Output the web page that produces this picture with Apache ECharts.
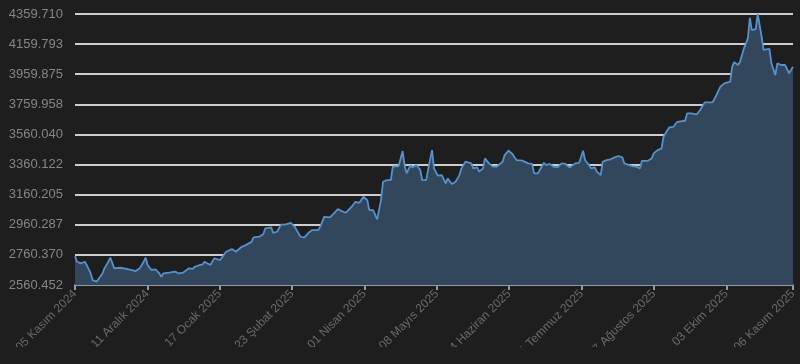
<!DOCTYPE html>
<html>
<head>
<meta charset="utf-8">
<script src="https://cdn.jsdelivr.net/npm/echarts@6/dist/echarts.min.js"></script>
<style>
html,body{margin:0;padding:0;background:#1e1e1e;}
#chart{width:800px;height:364px;}
</style>
</head>
<body>
<div id="chart"></div>
<script>
// ---- data ----
const dates = [
'2024-11-05','2024-11-06','2024-11-07','2024-11-08','2024-11-10','2024-11-11','2024-11-13','2024-11-14','2024-11-16','2024-11-17',
'2024-11-19','2024-11-20','2024-11-22','2024-11-23','2024-11-25','2024-11-26','2024-11-28','2024-11-30','2024-12-01','2024-12-04',
'2024-12-06','2024-12-08','2024-12-10','2024-12-11','2024-12-12','2024-12-14','2024-12-16','2024-12-18','2024-12-19','2024-12-20',
'2024-12-23','2024-12-24','2024-12-26','2024-12-28','2024-12-30','2024-12-31','2025-01-02','2025-01-04','2025-01-05','2025-01-07',
'2025-01-09','2025-01-10','2025-01-13','2025-01-15','2025-01-18','2025-01-21','2025-01-24','2025-01-26','2025-01-29','2025-01-31',
'2025-02-03','2025-02-04','2025-02-07','2025-02-09','2025-02-10','2025-02-13','2025-02-14','2025-02-16','2025-02-18','2025-02-20',
'2025-02-23','2025-02-25','2025-02-26','2025-02-28','2025-03-02','2025-03-04','2025-03-06','2025-03-09','2025-03-10','2025-03-12',
'2025-03-15','2025-03-17','2025-03-19','2025-03-21','2025-03-23','2025-03-26','2025-03-28','2025-03-30','2025-04-01','2025-04-03',
'2025-04-04','2025-04-06','2025-04-08','2025-04-10','2025-04-11','2025-04-13','2025-04-15','2025-04-16','2025-04-19','2025-04-21',
'2025-04-22','2025-04-23','2025-04-25','2025-04-26','2025-04-28','2025-04-30','2025-05-01','2025-05-03','2025-05-04','2025-05-06',
'2025-05-07','2025-05-09','2025-05-11','2025-05-12','2025-05-13','2025-05-14','2025-05-16','2025-05-18','2025-05-20','2025-05-21',
'2025-05-23','2025-05-26','2025-05-27','2025-05-29','2025-05-30','2025-06-01','2025-06-02','2025-06-04','2025-06-06','2025-06-08',
'2025-06-11','2025-06-12','2025-06-14','2025-06-16','2025-06-18','2025-06-21','2025-06-22','2025-06-24','2025-06-26','2025-06-27',
'2025-06-29','2025-07-02','2025-07-03','2025-07-05','2025-07-07','2025-07-09','2025-07-11','2025-07-13','2025-07-15','2025-07-18',
'2025-07-20','2025-07-22','2025-07-23','2025-07-25','2025-07-26','2025-07-28','2025-07-29','2025-07-31','2025-08-01','2025-08-03',
'2025-08-05','2025-08-07','2025-08-09','2025-08-11','2025-08-12','2025-08-13','2025-08-16','2025-08-18','2025-08-20','2025-08-21',
'2025-08-24','2025-08-26','2025-08-27','2025-08-29','2025-08-31','2025-09-01','2025-09-03','2025-09-04','2025-09-06','2025-09-08',
'2025-09-12','2025-09-13','2025-09-15','2025-09-18','2025-09-20','2025-09-22','2025-09-23','2025-09-26','2025-09-28','2025-09-30',
'2025-10-02','2025-10-05','2025-10-06','2025-10-07','2025-10-09','2025-10-10','2025-10-12','2025-10-14','2025-10-15','2025-10-16',
'2025-10-18','2025-10-19','2025-10-21','2025-10-22','2025-10-23','2025-10-25','2025-10-26','2025-10-28','2025-10-29','2025-10-31',
'2025-11-02','2025-11-04','2025-11-05','2025-11-06'
];
const prices = [
2752,2715,2727,2704,2715,2692,2637,2593,2582,2585,
2637,2671,2715,2743,2671,2660,2675,2671,2667,2660,
2653,2671,2715,2743,2693,2660,2664,2637,2615,2637,
2642,2631,2649,2637,2642,2653,2671,2667,2681,2690,
2697,2715,2693,2737,2726,2781,2799,2781,2814,2825,
2847,2877,2881,2899,2936,2943,2907,2914,2961,2961,
2973,2947,2925,2880,2877,2907,2925,2925,2947,3013,
3010,3036,3064,3051,3040,3080,3113,3106,3146,3124,
3058,3058,2996,3124,3246,3257,3257,3346,3350,3450,
3355,3302,3355,3340,3357,3324,3257,3257,3328,3456,
3335,3286,3290,3262,3235,3268,3231,3246,3290,3335,
3379,3368,3335,3341,3313,3335,3401,3368,3346,3346,
3379,3423,3452,3430,3390,3386,3386,3368,3364,3302,
3302,3372,3357,3364,3346,3341,3368,3364,3341,3368,
3372,3452,3390,3357,3335,3341,3313,3290,3379,3390,
3395,3408,3417,3408,3368,3357,3350,3346,3335,3385,
3385,3401,3434,3456,3467,3545,3589,3607,3611,3644,
3651,3700,3700,3694,3729,3773,3767,3773,3822,3877,
3899,3910,4010,4040,4021,4043,4132,4198,4335,4253,
4259,4359.71,4209,4121,4132,4128,4032,3954,4032,4021,
4021,3966,3988,4010
];
const startDate = '2024-11-05';
const endDate = '2025-11-06';
const yMin = 2560.452;
const yMax = 4359.710;
const yStep = 199.9176;
const tickDays = 332 / 9;
const months = ['Ocak','Şubat','Mart','Nisan','Mayıs','Haziran','Temmuz','Ağustos','Eylül','Ekim','Kasım','Aralık'];

// ---- helpers ----
const DAY = 86400000;
function utc(s){ const p = s.split('-').map(Number); return Date.UTC(p[0], p[1]-1, p[2]); }
const t0 = utc(startDate);
const spanDays = (utc(endDate) - t0) / DAY;
function dayLabel(v){
  const d = new Date(t0 + Math.floor(v + 1e-6) * DAY);
  const dd = String(d.getUTCDate()).padStart(2,'0');
  return dd + ' ' + months[d.getUTCMonth()] + ' ' + d.getUTCFullYear();
}
const seriesData = dates.map((s, i) => [(utc(s) - t0) / DAY, prices[i] - yMin]);

const BG = '#1e1e1e';
const chart = echarts.init(document.getElementById('chart'), null, {renderer:'canvas'});
chart.setOption({
  backgroundColor: BG,
  animation: false,
  grid: { left: 75, right: 7, top: 14, bottom: 79, containLabel: false, outerBoundsMode: 'none' },
  xAxis: {
    type: 'value',
    min: 0,
    max: spanDays,
    interval: tickDays,
    axisLine: { show: true, lineStyle: { color: '#8e9bad', width: 2 } },
    axisTick: { show: true, length: 5, lineStyle: { color: '#8e9bad', width: 2 } },
    splitLine: { show: false },
    axisLabel: {
      rotate: 45,
      color: '#6a6a6a',
      fontSize: 12,
      fontFamily: 'Liberation Sans, Arial, sans-serif',
      margin: 7,
      showMinLabel: true,
      showMaxLabel: true,
      hideOverlap: false,
      formatter: dayLabel
    }
  },
  yAxis: {
    type: 'value',
    min: 0,
    max: yMax - yMin,
    interval: yStep,
    axisLine: { show: false },
    axisTick: { show: false },
    splitLine: { show: true, lineStyle: { color: '#cdcdcd', width: 2 } },
    axisLabel: {
      color: '#858585',
      fontSize: 13,
      fontFamily: 'Liberation Sans, Arial, sans-serif',
      margin: 12,
      showMinLabel: true,
      showMaxLabel: true,
      formatter: v => (v + yMin).toFixed(3)
    }
  },
  graphic: [{
    type: 'rect',
    left: 0,
    top: 347,
    shape: { width: 800, height: 17 },
    style: { fill: BG },
    z: 100,
    silent: true
  }],
  series: [{
    type: 'line',
    data: seriesData,
    showSymbol: false,
    symbol: 'none',
    lineStyle: { color: '#5592cc', width: 1.8 },
    areaStyle: { color: '#32465c', opacity: 1, origin: 'start' },
    z: 3
  }]
});
</script>
</body>
</html>
